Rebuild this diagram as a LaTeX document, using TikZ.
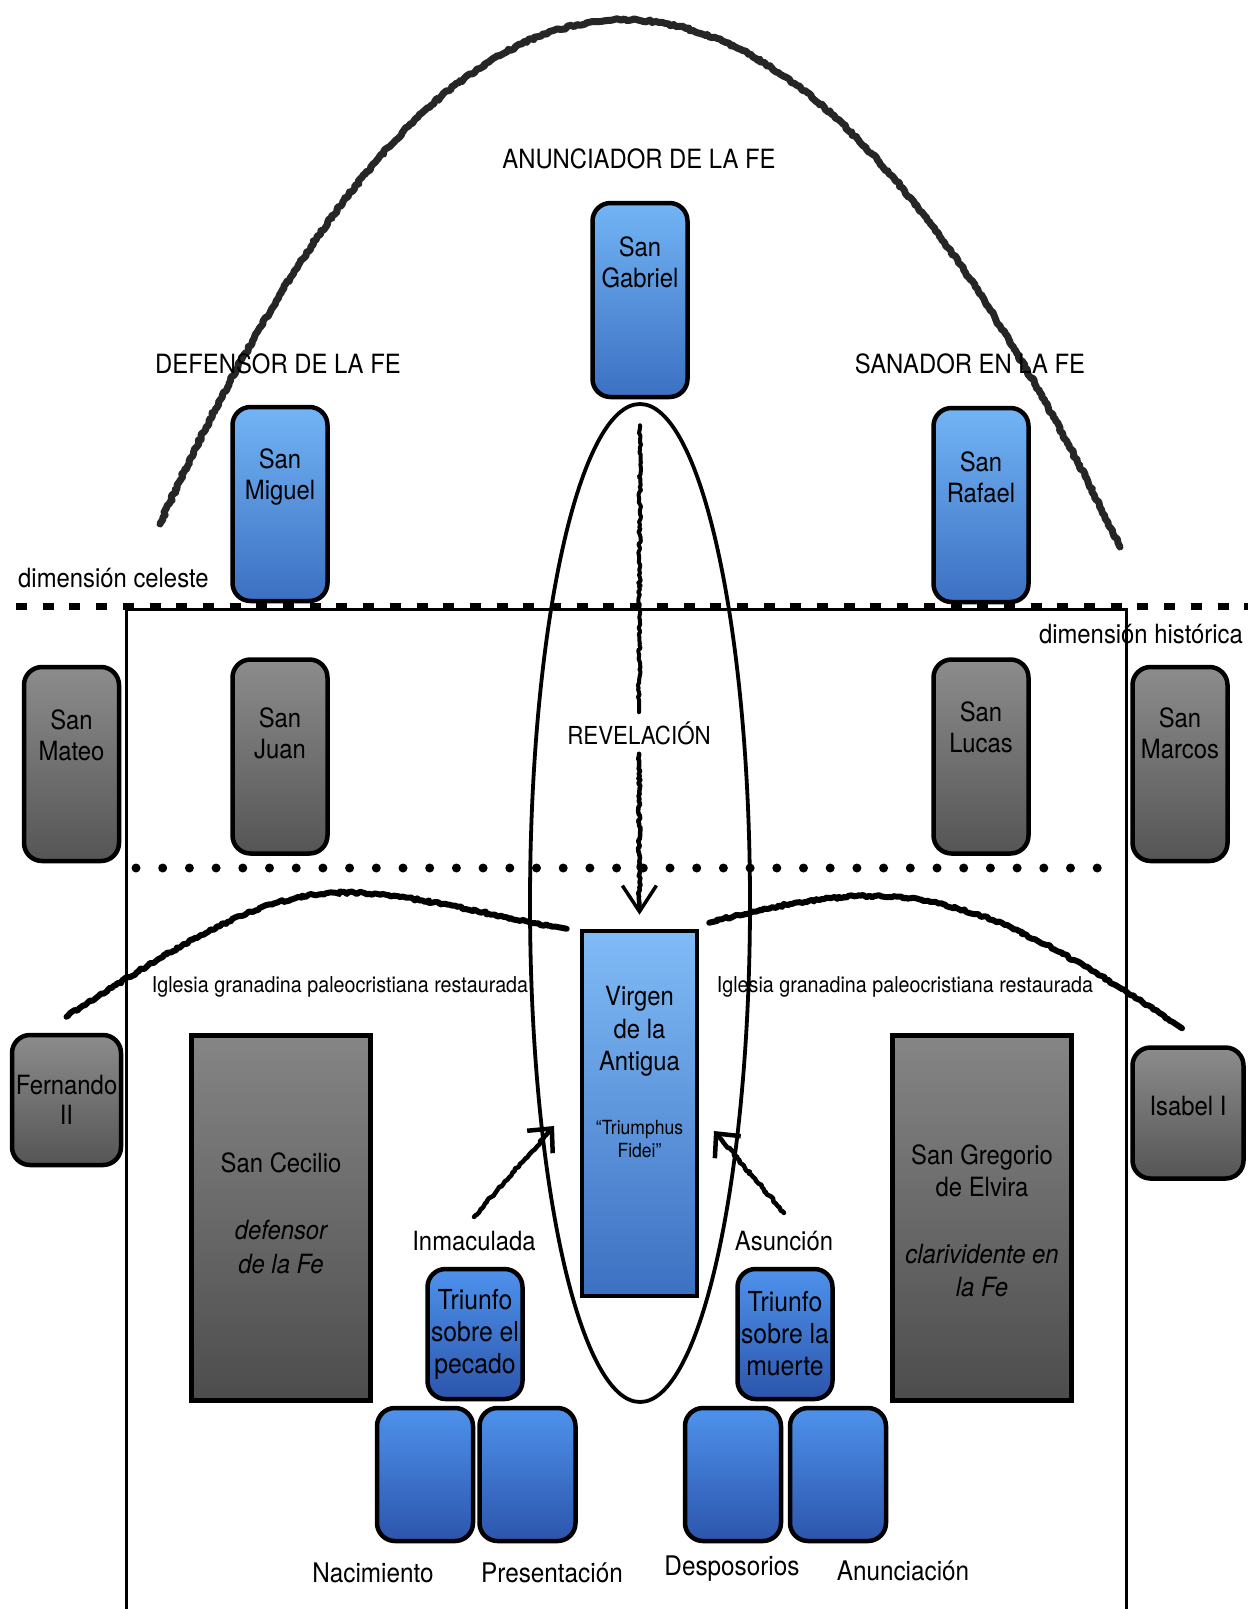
\documentclass[tikz,border=0pt]{standalone}
\usepackage{fontspec}
\setmainfont{TeX Gyre Heros}[FakeStretch=0.9]
\usetikzlibrary{arrows.meta,decorations.pathmorphing}

\definecolor{skytop}{HTML}{72B4F5}
\definecolor{skybot}{HTML}{3C70C2}
\definecolor{deeptop}{HTML}{4E92EC}
\definecolor{deepbot}{HTML}{2C55AC}
\definecolor{greytop}{HTML}{8C8C8C}
\definecolor{greybot}{HTML}{555555}

\begin{document}
\pgfmathsetseed{42}
\begin{tikzpicture}[x=1pt, y=-1pt,
    angel/.style={draw, line width=4.5pt, rounded corners=18pt, top color=skytop, bottom color=skybot, minimum width=95pt, minimum height=194pt, inner sep=0pt},
    evangelist/.style={angel, top color=greytop, bottom color=greybot},
    king/.style={evangelist, minimum width=109pt, minimum height=130pt, align=center, font=\fontsize{26.5}{30}\selectfont},
    bishop/.style={draw, line width=4.5pt, top color=greytop!95!black, bottom color=greybot!90!black, minimum width=179pt, minimum height=365pt, inner sep=0pt},
    triumph/.style={angel, top color=deeptop, bottom color=deepbot, minimum width=95pt, minimum height=130pt, align=center, font=\fontsize{27.5}{32}\selectfont},
    mystery/.style={triumph, minimum width=96pt, minimum height=133pt},
    inbox/.style={align=center, inner sep=0pt, font=\fontsize{26.5}{31}\selectfont},
    lab/.style={inner sep=0pt, font=\fontsize{26.5}{30}\selectfont},
    rough/.style={decorate, decoration={random steps, segment length=2.5pt, amplitude=1.3pt, pre length=2pt, post length=12pt}, line width=4.5pt, line join=round, line cap=round}
]
    \useasboundingbox (0,0) rectangle (1248,1609);
    \fill[white] (0,0) rectangle (1248,1609);

    % Heaven arc
    \draw[rough, line width=7pt, black!85] (160,524) .. controls (466.7,-155.7) and (786.7,-148) .. (1120,547);

    % Frame of the historical dimension
    \draw[line width=3pt] (126,1615) |- (1126,609) -- (1126,1615);
    \draw[line width=7pt, dash pattern=on 11pt off 15.7pt] (16,606) -- (1248,606);
    \draw[line width=9pt, line cap=round, dash pattern=on 0pt off 26.7pt] (136,868) -- (1120,868);

    % Revelation ring
    \draw[line width=3.8pt] (640,903) ellipse (110pt and 499pt);

    % Archangels
    \node[angel] (gabriel) at (640,300) {};
    \node[angel] (miguel) at (280,504) {};
    \node[angel] (rafael) at (981,505) {};
    \node[inbox] (gabriel-t) at (640,262) {San\\Gabriel};
    \node[inbox] (miguel-t) at (280,477) {San\\Miguel};
    \node[inbox] (rafael-t) at (981,477) {San\\Rafael};
    \node[lab] (anunciador) at (639,159) {ANUNCIADOR DE LA FE};
    \node[lab] (defensor) at (278,364) {DEFENSOR DE LA FE};
    \node[lab] (sanador) at (970,364) {SANADOR EN LA FE};
    \node[lab, anchor=west] (celeste) at (18,578) {dimensión celeste};
    \node[lab, anchor=east] (historica) at (1243,634) {dimensión histórica};

    % Evangelists
    \node[evangelist] (mateo) at (71.5,764) {};
    \node[evangelist] (juan) at (280,756.5) {};
    \node[evangelist] (lucas) at (981,756.5) {};
    \node[evangelist] (marcos) at (1180,764) {};
    \node[inbox] (mateo-t) at (71.5,735) {San\\Mateo};
    \node[inbox] (juan-t) at (280,733) {San\\Juan};
    \node[inbox] (lucas-t) at (981,727) {San\\Lucas};
    \node[inbox] (marcos-t) at (1180,733) {San\\Marcos};

    % Virgin
    \node[draw, line width=4.5pt, top color=skytop!90!white, bottom color=skybot, minimum width=115pt, minimum height=365pt, inner sep=0pt] (virgen) at (639.5,1113.5) {};
    \node[inbox, font=\fontsize{26.5}{32.5}\selectfont] (virgen-t) at (639.5,1031.5) {Virgen\\de la\\Antigua};
    \node[inbox, font=\fontsize{19.5}{22.5}\selectfont] (fidei) at (639.5,1139) {“Triumphus\\Fidei”};

    % Revelation
    \node[lab, font=\fontsize{24.8}{28}\selectfont, inner sep=9pt] (revel) at (639,733) {REVELACIÓN};
    \draw[rough, line width=4pt] ([yshift=-26pt]gabriel.south) -- (revel.north);
    \draw[rough, line width=4.5pt, -{Straight Barb[length=26pt, width=34pt, line width=3.5pt]}] (revel.south) -- ([yshift=14pt]virgen.north);

    % Bishops and kings
    \node[bishop] (cecilio) at (281,1218) {};
    \node[bishop] (gregorio) at (982,1218) {};
    \node[inbox] (cecilio-t) at (281,1163) {San Cecilio};
    \node[inbox, font=\itshape\fontsize{26.5}{34}\selectfont] (cecilio-d) at (281,1247) {defensor\\de la Fe};
    \node[inbox, font=\fontsize{26.5}{32}\selectfont] (gregorio-t) at (982,1171) {San Gregorio\\de Elvira};
    \node[inbox, font=\itshape\fontsize{26.5}{33}\selectfont] (gregorio-d) at (982,1271) {clarividente en\\la Fe};
    \node[king] (fernando) at (66.5,1100) {Fernando\\II};
    \node[king, minimum width=111pt, minimum height=131pt] (isabel) at (1188,1113) {\raisebox{14pt}{Isabel I}};

    % Restored church
    \node[lab, font=\fontsize{21.9}{24}\selectfont] (iglesia-l) at (340,987) {Iglesia granadina paleocristiana restaurada};
    \node[lab, font=\fontsize{21.9}{24}\selectfont] (iglesia-r) at (905,987) {Iglesia granadina paleocristiana restaurada};
    \draw[rough, line width=6pt] ([yshift=16pt]fernando.north) .. controls (318,853) and (321.5,883) .. ([xshift=-13pt]virgen.north west);
    \draw[rough, line width=6pt] ([xshift=10pt, yshift=6pt]virgen.north east) .. controls (902,871) and (974.5,889) .. ([yshift=17pt, xshift=-6pt]isabel.north);

    % Triumphs
    \node[triumph] (pecado) at (475,1334) {Triunfo\\sobre el\\pecado};
    \node[triumph] (muerte) at (785,1334) {Triunfo\\sobre la\\muerte};
    \node[lab] (inmaculada) at (474,1241) {Inmaculada};
    \node[lab] (asuncion) at (784,1241) {Asunción};
    \coordinate (inm-tip) at (554,1126);
    \coordinate (asu-tip) at (714,1131);
    \draw[rough, -{Straight Barb[length=18pt, width=34pt, line width=4.5pt]}] ([yshift=14pt]inmaculada.north) -- (inm-tip);
    \draw[rough, -{Straight Barb[length=18pt, width=34pt, line width=4.5pt]}] ([yshift=18pt]asuncion.north) -- (asu-tip);

    % Mysteries
    \node[mystery] (nacimiento) at (425,1474.5) {};
    \node[mystery] (presentacion) at (527.5,1474.5) {};
    \node[mystery] (desposorios) at (733,1474.5) {};
    \node[mystery] (anunciacion) at (838,1474.5) {};
    \node[lab, font=\fontsize{27}{30}\selectfont] (nacimiento-t) at (373,1573) {Nacimiento};
    \node[lab, font=\fontsize{27}{30}\selectfont] (presentacion-t) at (552,1573) {Presentación};
    \node[lab, font=\fontsize{27}{30}\selectfont] (desposorios-t) at (732,1569) {Desposorios};
    \node[lab, font=\fontsize{27}{30}\selectfont] (anunciacion-t) at (903,1571) {Anunciación};
\end{tikzpicture}
\end{document}
